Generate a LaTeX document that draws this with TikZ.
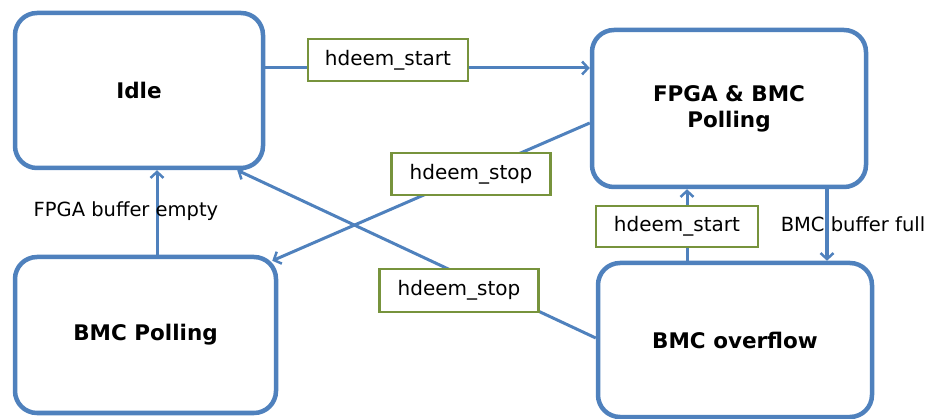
\documentclass[tikz,border=0pt]{standalone}
\usepackage{fontspec}
\setmainfont{DejaVu Sans}
\usetikzlibrary{arrows.meta}
\definecolor{boxblue}{HTML}{4F81BD}
\definecolor{lblgreen}{HTML}{77933C}
\tikzset{
  state/.style={draw=boxblue, line width=4.5pt, rounded corners=22pt, fill=white,
    inner sep=0pt, align=center, font=\fontsize{21.5}{26}\selectfont\bfseries},
  trig/.style={draw=lblgreen, line width=2.8pt, fill=white, inner sep=0pt,
    minimum width=159pt, minimum height=42pt, font=\fontsize{20}{22}\selectfont},
  cond/.style={inner sep=0pt, font=\fontsize{19.5}{22}\selectfont},
  conn/.style={draw=boxblue, line width=3pt, -{Straight Barb[length=6pt,width=13pt,line width=2.5pt]}},
}
\begin{document}
\begin{tikzpicture}[x=1pt,y=-1pt]
\useasboundingbox (0,0) rectangle (937,419);
% states
\node[state, minimum width=248pt, minimum height=155pt] (idle) at (139,90.5) {Idle};
\node[state, minimum width=274pt, minimum height=157pt] (fpga) at (729,108.5) {FPGA \& BMC\\Polling};
\node[state, minimum width=261pt, minimum height=156pt] (bmcp) at (145.5,335) {BMC Polling};
\node[state, minimum width=274pt, minimum height=154pt] (ovf) at (735,340) {BMC overflow};
% connectors
\draw[conn] ([yshift=22.5pt]idle.east) -- ([yshift=40.5pt]fpga.west);
\draw[conn] ([yshift=-14.5pt]fpga.west) -- ([xshift=-6pt,yshift=-6pt]bmcp.north east);
\draw[conn] ([yshift=2pt]ovf.west) -- ([xshift=-28pt]idle.south east);
\draw[conn] ([xshift=11.5pt]bmcp.north) -- ([xshift=11.5pt]bmcp.north |- idle.south);
\draw[conn] ([xshift=-48pt]ovf.north) -- ([xshift=-48pt]ovf.north |- fpga.south);
\draw[conn, line width=4pt] ([xshift=98pt]fpga.south) -- ([xshift=98pt]fpga.south |- ovf.north);
% trigger labels
\node[trig, minimum width=160pt] (start1) at (388,60) {hdeem\_start};
\node[trig] (stop1) at (471,174) {hdeem\_stop};
\node[trig, minimum height=43pt] (stop2) at (459,290.5) {hdeem\_stop};
\node[trig, minimum width=162pt, minimum height=41pt] (start2) at (677,226.5) {hdeem\_start};
% condition labels
\node[cond] (empty) at (126,211) {FPGA buffer empty};
\node[cond] (full) at (853,224) {BMC buffer full};
\end{tikzpicture}
\end{document}
